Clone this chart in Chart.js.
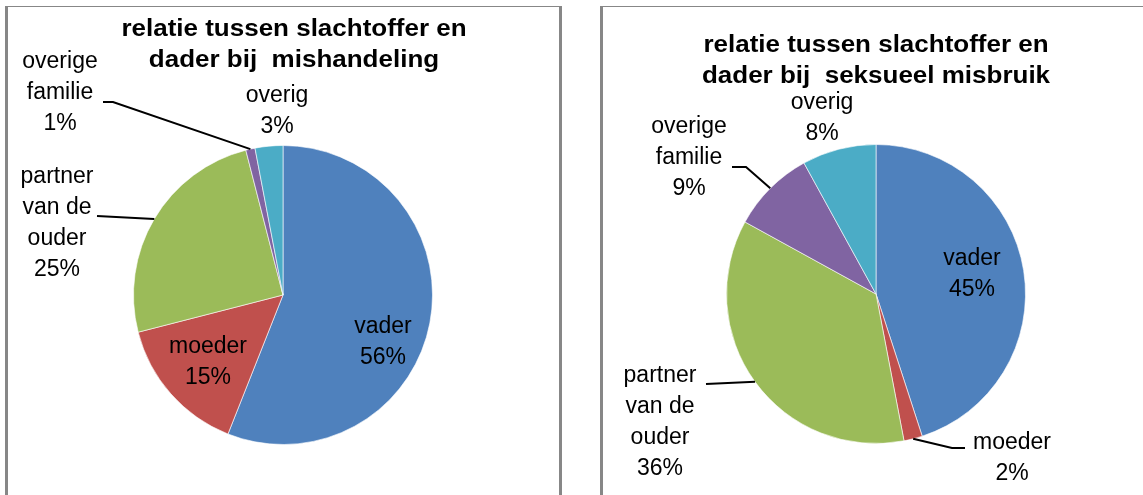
<!DOCTYPE html>
<html>
<head>
<meta charset="utf-8">
<script src="https://cdn.jsdelivr.net/npm/chart.js@4/dist/chart.umd.min.js"></script>
<style>
  body { margin: 0; background: #fff; width: 1143px; height: 495px; overflow: hidden; position: relative; }
  .box { position: absolute; top: 6px; height: 520px; border: 3px solid #878787; border-top-width: 1px; border-bottom: none; box-sizing: border-box; }
  canvas { position: absolute; top: 0; }
</style>
</head>
<body>
<div class="box" style="left:5px; width:557px;"></div>
<div class="box" style="left:600px; width:600px;"></div>
<canvas id="chart-mishandeling" width="595" height="495" style="left:0"></canvas>
<canvas id="chart-misbruik" width="548" height="495" style="left:595px"></canvas>
<script>
// categorieën en waarden (procenten)
const categories = ['vader', 'moeder', 'partner van de ouder', 'overige familie', 'overig'];
const labelLines = [['vader'], ['moeder'], ['partner', 'van de', 'ouder'], ['overige', 'familie'], ['overig']];
const mishandelingValues = [56, 15, 25, 1, 3];
const misbruikValues = [45, 2, 36, 9, 8];
const mishandelingTitle = ['relatie tussen slachtoffer en', 'dader bij  mishandeling'];
const misbruikTitle = ['relatie tussen slachtoffer en', 'dader bij  seksueel misbruik'];
const colors = ['#4F81BD', '#C0504D', '#9BBB59', '#8064A2', '#4BACC6'];

// plaats van de labels t.o.v. het midden van de taart
const mishandelingPlaces = [
  { dx: 100, dy: 32 },
  { dx: -75, dy: 52 },
  { dx: -226, dy: -118, leader: [[-186, -79]] },
  { dx: -223, dy: -233, leader: [[-170, -193], [-180, -193]] },
  { dx: -6, dy: -199 }
];
const misbruikPlaces = [
  { dx: 96, dy: -35 },
  { dx: 136, dy: 149, leader: [[76, 154], [89, 154]] },
  { dx: -216, dy: 82, leader: [[-170, 90]] },
  { dx: -187, dy: -167, leader: [[-130, -127], [-144, -127]] },
  { dx: -54, dy: -191 }
];

const pieLabels = {
  id: 'pieLabels',
  afterDatasetsDraw(chart, args, opts) {
    const ctx = chart.ctx;
    const meta = chart.getDatasetMeta(0);
    const data = chart.data.datasets[0].data;
    const total = data.reduce((a, b) => a + b, 0);
    ctx.save();
    ctx.fillStyle = '#000';
    ctx.strokeStyle = '#000';
    ctx.lineWidth = 2;
    ctx.textAlign = 'center';
    ctx.textBaseline = 'middle';
    ctx.font = '23px "Liberation Sans", Arial, sans-serif';
    meta.data.forEach((arc, i) => {
      const { x, y, startAngle, endAngle, outerRadius } =
        arc.getProps(['x', 'y', 'startAngle', 'endAngle', 'outerRadius'], true);
      const place = opts.places[i];
      const mid = (startAngle + endAngle) / 2;
      if (place.leader) {
        ctx.beginPath();
        ctx.moveTo(x + Math.cos(mid) * outerRadius, y + Math.sin(mid) * outerRadius);
        place.leader.forEach(p => ctx.lineTo(x + p[0], y + p[1]));
        ctx.stroke();
      }
      const lines = [...labelLines[i], Math.round(data[i] / total * 100) + '%'];
      lines.forEach((t, k) => ctx.fillText(t, x + place.dx, y + place.dy + k * 31));
    });

    // titel, iets breder getekend zoals in het origineel
    ctx.font = 'bold 23px "Liberation Sans", Arial, sans-serif';
    opts.title.forEach((t, k) => {
      ctx.save();
      ctx.translate(opts.titleX, opts.titleY + k * 31);
      ctx.scale(1.13, 1);
      ctx.fillText(t, 0, 0);
      ctx.restore();
    });
    ctx.restore();
  }
};

function makePie(id, values, places, title, titleX, titleY, padding) {
  const ctx = document.getElementById(id).getContext('2d');
  return new Chart(ctx, {
    type: 'pie',
    data: {
      labels: categories,
      datasets: [{
        data: values,
        backgroundColor: colors,
        borderColor: 'rgba(255,255,255,0.6)',
        borderWidth: 1
      }]
    },
    options: {
      responsive: false,
      animation: false,
      layout: { padding: padding },
      plugins: {
        legend: { display: false },
        tooltip: { enabled: false },
        title: { display: false },
        pieLabels: { places: places, title: title, titleX: titleX, titleY: titleY }
      }
    },
    plugins: [pieLabels]
  });
}

makePie('chart-mishandeling', mishandelingValues, mishandelingPlaces, mishandelingTitle, 294, 30,
  { left: 133, right: 162, top: 145, bottom: 50 });
makePie('chart-misbruik', misbruikValues, misbruikPlaces, misbruikTitle, 281, 46,
  { left: 131, right: 117, top: 144, bottom: 51 });
</script>
</body>
</html>
